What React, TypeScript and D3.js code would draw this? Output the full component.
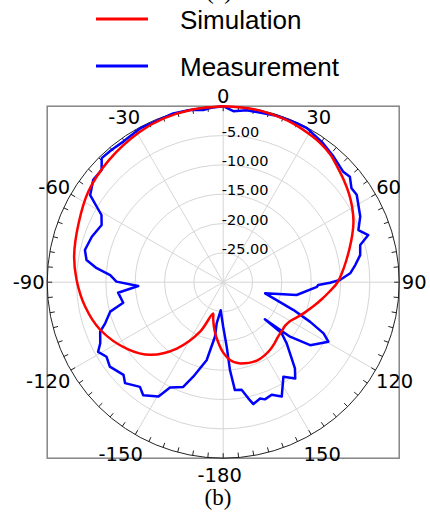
import { useRef, useEffect } from 'react';
import * as d3 from 'd3';

// simulated pattern (deg -> dB)
const simAngles = [0, 10, 20, 25, 30, 35, 40, 45, 50, 55, 60, 65, 70, 75, 80, 85, 90, 95, 100, 105, 110, 115, 120, 125, 130, 135, 140, 145, 150, 155, 160, 165, 170, 175, 180, 185, 190, 195, 198, 205, 215, 225, 235, 249, 260, 271, 280, 292, 304, 317, 331, 340, 350, 360];
const simValues = [0, -0.05, -0.3, -0.5, -0.8, -1.1, -1.6, -2.4, -3.1, -3.8, -4.6, -5.5, -6.6, -7.7, -8.7, -9.6, -10.5, -11.8, -13.0, -14.1, -15.1, -16.0, -16.8, -17.1, -17.0, -16.8, -16.4, -16.0, -15.7, -15.5, -15.5, -15.7, -16.0, -16.7, -18.0, -19.8, -21.6, -23.4, -24.4, -20.7, -16.2, -12.5, -10.1, -7.5, -6.1, -5.0, -4.2, -3.4, -2.3, -1.5, -0.7, -0.3, -0.1, 0];

// measured pattern, in drawing order
const measAngles = [0, 3.4, 7.8, 13.4, 17.8, 24.8, 28.5, 35.3, 41.3, 47.4, 50.2, 53.8, 56.8, 64.4, 68.9, 72, 74.8, 78.8, 82.6, 86, 88.9, 90.3, 91.7, 92.8, 99.9, 104.9, 111.6, 114.5, 117, 119.5, 125.9, 129.2, 131.6, 131.1, 133.9, 140.2, 143.2, 147.5, 152.9, 156.7, 160.4, 162.4, 166.1, 167.8, 170.3, 173.8, 175.6, 176.9, 180, 185.1, 189, 188.6, 192, 197.6, 200.9, 206.8, 209.5, 215.3, 218.5, 224.2, 227.1, 233.3, 237.4, 240.9, 243.6, 248.1, 250.8, 255.4, 258.4, 264.3, 267.4, 270.3, 273.6, 276.3, 279.2, 283.1, 289.1, 295.2, 298.9, 303.2, 308.2, 312.7, 315.6, 319.9, 324.6, 331.6, 343.5, 349.1, 353.4, 356, 360];
const measValues = [0, -0.8, -0.4, -0.4, -0.2, -0.15, -0.1, -0.8, -1.5, -2.2, -1.9, -2.9, -2.8, -4.1, -5.3, -4.0, -5.8, -6.2, -7.3, -8.3, -10.1, -11.8, -13.8, -14.0, -17.3, -22.6, -17.1, -13.7, -10.8, -9.4, -11.7, -15.3, -20.5, -16.8, -15.0, -10.9, -9.5, -10.9, -8.1, -9.1, -8.8, -9.2, -8.6, -9.75, -11.4, -11.5, -15.0, -19.0, -22.4, -25.2, -22.9, -20.6, -16.4, -13.1, -10.9, -9.9, -7.6, -6.4, -7.2, -6.0, -6.8, -5.9, -6.4, -5.6, -6.6, -7.4, -8.7, -10.1, -12.6, -12.0, -15.5, -11.8, -10.7, -8.3, -6.4, -5.8, -6.3, -7.1, -6.3, -2.9, -1.8, -1.8, -0.4, -0.5, -0.6, -0.2, 0, -0.1, -0.45, -0.2, 0];

const ringValues = [-25, -20, -15, -10, -5, 0];
const ringLabels = ['-25.00', '-20.00', '-15.00', '-10.00', '-5.00'];
const spokeAngles = [0, 30, 60, 90, 120, 150, 180, 210, 240, 270, 300, 330];
const spokeLabels = ['0', '30', '60', '90', '120', '150', '-180', '-150', '-120', '-90', '-60', '-30'];
const seriesNames = ['Simulation', 'Measurement'];
const seriesColors = ['#ff0000', '#0000ff'];

function App() {
  const svgRef = useRef<SVGSVGElement | null>(null);
  const width = 430;
  const height = 513;

  useEffect(() => {
    const svg = d3.select(svgRef.current);
    svg.selectAll('*').remove();

    const cx = 223.2;
    const cy = 282.2;
    const R = 176;
    const rad = (d: number) => (d * Math.PI) / 180;

    const r = d3.scaleLinear().domain([-30, 0]).range([0, R]);

    // frame
    svg
      .append('rect')
      .attr('x', cx - R)
      .attr('y', cy - R)
      .attr('width', 2 * R)
      .attr('height', 2 * R)
      .attr('fill', 'none')
      .attr('stroke', '#858585')
      .attr('stroke-width', 1.5);

    const g = svg.append('g').attr('transform', `translate(${cx},${cy})`);

    // rings
    g.selectAll('.ring')
      .data(ringValues.slice(0, -1))
      .join('circle')
      .attr('r', (d) => r(d))
      .attr('fill', 'none')
      .attr('stroke', '#d6d6d6')
      .attr('stroke-width', 1);

    // spokes
    g.selectAll('.spoke')
      .data(spokeAngles)
      .join('line')
      .attr('x1', 0)
      .attr('y1', 0)
      .attr('x2', (d) => R * Math.sin(rad(d)))
      .attr('y2', (d) => -R * Math.cos(rad(d)))
      .attr('stroke', '#d6d6d6')
      .attr('stroke-width', 1);

    // outer circle + minor ticks
    g.append('circle')
      .attr('r', R)
      .attr('fill', 'none')
      .attr('stroke', '#222')
      .attr('stroke-width', 1);

    g.selectAll('.tick')
      .data(d3.range(0, 360, 5))
      .join('line')
      .attr('x1', (d) => R * Math.sin(rad(d)))
      .attr('y1', (d) => -R * Math.cos(rad(d)))
      .attr('x2', (d) => (R - 5) * Math.sin(rad(d)))
      .attr('y2', (d) => -(R - 5) * Math.cos(rad(d)))
      .attr('stroke', '#222')
      .attr('stroke-width', 1);

    // ring labels
    g.selectAll('.rlabel')
      .data(ringLabels)
      .join('text')
      .attr('x', -1.5)
      .attr('y', (_, i) => -r(ringValues[i]) + 1)
      .style('font', '14.5px "DejaVu Sans", sans-serif')
      .text((d) => d);

    // angle labels
    const labelR = (d: number) => {
      const c = Math.cos(rad(d));
      if (c > 0.9) return 186;
      if (c < -0.9) return 193;
      if (c < -0.3) return 198;
      return 191;
    };
    g.selectAll('.alabel')
      .data(spokeAngles)
      .join('text')
      .attr('x', (d, i) => labelR(d) * Math.sin(rad(d)) - (spokeLabels[i].startsWith('-') ? 3.5 : 0))
      .attr('y', (d) => -labelR(d) * Math.cos(rad(d)) + 7)
      .attr('text-anchor', 'middle')
      .style('font', '19.5px "DejaVu Sans", sans-serif')
      .text((_, i) => spokeLabels[i]);

    const line = d3
      .lineRadial<[number, number]>()
      .angle((d) => rad(d[0]))
      .radius((d) => r(d[1]));

    const simData = simAngles.map((a, i) => [a, simValues[i]] as [number, number]);
    const measData = measAngles.map((a, i) => [a, measValues[i]] as [number, number]);

    g.append('path')
      .datum(measData)
      .attr('fill', 'none')
      .attr('stroke', seriesColors[1])
      .attr('stroke-width', 2.5)
      .attr('stroke-linejoin', 'round')
      .attr('d', line);

    g.append('path')
      .datum(simData)
      .attr('fill', 'none')
      .attr('stroke', seriesColors[0])
      .attr('stroke-width', 2.5)
      .attr('d', line.curve(d3.curveCatmullRom));

    // legend
    const legend = svg.append('g');
    seriesNames.forEach((name, i) => {
      const y = 19 + i * 47;
      legend
        .append('line')
        .attr('x1', 96)
        .attr('x2', 148)
        .attr('y1', y)
        .attr('y2', y)
        .attr('stroke', seriesColors[i])
        .attr('stroke-width', 3);
      legend
        .append('text')
        .attr('x', 180)
        .attr('y', y + 9.5)
        .style('font', '26px "Liberation Sans", Arial, sans-serif')
        .text(name);
    });

    // panel captions; the top one is cut by the page edge as in the source figure
    svg
      .append('text')
      .attr('x', 219)
      .attr('y', -1)
      .attr('text-anchor', 'middle')
      .style('font', '24px "Liberation Serif", serif')
      .text('(a)');

    svg
      .append('text')
      .attr('x', 218)
      .attr('y', 505)
      .attr('text-anchor', 'middle')
      .style('font', '23px "Liberation Serif", serif')
      .text('(b)');
  }, []);

  return (
    <svg
      ref={svgRef}
      width={width}
      height={height}
      style={{ position: 'absolute', left: 0, top: 0, background: '#fff' }}
    ></svg>
  );
}

export default App;
